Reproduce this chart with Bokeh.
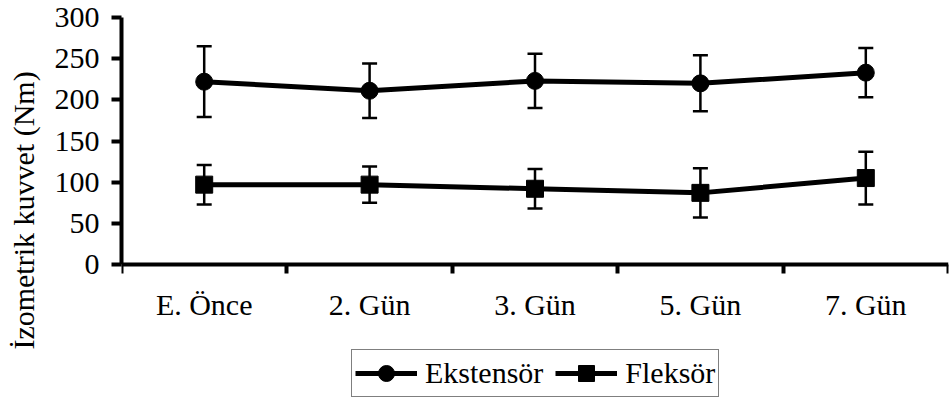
from bokeh.plotting import figure
from bokeh.models import (ColumnDataSource, Whisker, TeeHead, FixedTicker,
                          Legend, LegendItem, Range1d)
from bokeh.embed import file_html
from bokeh.resources import INLINE

categories = ["E. Önce", "2. Gün", "3. Gün", "5. Gün", "7. Gün"]
ekstensor = [222, 211, 223, 220, 233]
ekstensor_sd = [43, 33, 33, 34, 30]
fleksor = [97, 97, 92, 87, 105]
fleksor_sd = [24, 22, 24, 30, 32]
y_ticks = [0, 50, 100, 150, 200, 250, 300]
series_names = ["Ekstensör", "Fleksör"]

FONT = "Liberation Serif"
FS = "30px"

W, H = 949, 403
TOP, AXIS_Y = 17, 264          # pixel rows of y=300 and y=0
y_max = y_ticks[-1]
y_min = -y_max * (H - AXIS_Y) / (AXIS_Y - TOP)   # frame extends below the axis

xs = [i + 0.5 for i in range(len(categories))]

src_e = ColumnDataSource(dict(
    x=xs, y=ekstensor,
    upper=[v + s for v, s in zip(ekstensor, ekstensor_sd)],
    lower=[v - s for v, s in zip(ekstensor, ekstensor_sd)]))
src_f = ColumnDataSource(dict(
    x=xs, y=fleksor,
    upper=[v + s for v, s in zip(fleksor, fleksor_sd)],
    lower=[v - s for v, s in zip(fleksor, fleksor_sd)]))

p = figure(width=W, height=H, output_backend="svg", toolbar_location=None,
           x_range=Range1d(0, len(categories)), y_range=Range1d(y_min, y_max),
           min_border_left=121, min_border_right=1, min_border_top=TOP,
           min_border_bottom=0)
p.grid.visible = False
p.outline_line_color = None
p.background_fill_color = "white"
p.border_fill_color = "white"

# error bars
for src in (src_e, src_f):
    w = Whisker(source=src, base="x", upper="upper", lower="lower",
                dimension="height", line_color="black", line_width=2.5,
                upper_head=TeeHead(size=15, line_color="black", line_width=2.5),
                lower_head=TeeHead(size=15, line_color="black", line_width=2.5))
    p.add_layout(w)

l1 = p.line("x", "y", source=src_e, line_color="black", line_width=5)
s1 = p.scatter("x", "y", source=src_e, marker="circle", size=17,
               fill_color="black", line_color="black")
l2 = p.line("x", "y", source=src_f, line_color="black", line_width=5)
s2 = p.scatter("x", "y", source=src_f, marker="square", size=17,
               fill_color="black", line_color="black")

# x axis, pinned at y = 0 inside the frame
xa = p.xaxis[0]
xa.fixed_location = 0
xa.ticker = FixedTicker(ticks=xs, minor_ticks=list(range(len(categories) + 1)))
xa.major_label_overrides = {x: c for x, c in zip(xs, categories)}
xa.major_tick_out = 0
xa.major_tick_in = 0
xa.minor_tick_out = 9
xa.minor_tick_in = 0
xa.minor_tick_line_width = 4
xa.minor_tick_line_color = "black"
xa.axis_line_width = 4
xa.axis_line_color = "black"
xa.major_label_standoff = 14
xa.major_label_text_font = FONT
xa.major_label_text_font_size = FS
xa.major_label_text_color = "black"

# y axis
ya = p.yaxis[0]
ya.bounds = (0, y_max)
ya.ticker = FixedTicker(ticks=y_ticks)
ya.major_tick_out = 10
ya.major_tick_in = 0
ya.major_tick_line_width = 4
ya.major_tick_line_color = "black"
ya.minor_tick_line_color = None
ya.axis_line_width = 4
ya.axis_line_color = "black"
ya.major_label_standoff = 12
ya.major_label_text_font = FONT
ya.major_label_text_font_size = FS
ya.major_label_text_color = "black"
ya.axis_label = "İzometrik kuvvet (Nm)"
ya.axis_label_text_font = FONT
ya.axis_label_text_font_size = FS
ya.axis_label_text_font_style = "normal"
ya.axis_label_text_color = "black"
ya.axis_label_standoff = 12

legend = Legend(items=[LegendItem(label=series_names[0], renderers=[l1, s1]),
                       LegendItem(label=series_names[1], renderers=[l2, s2])],
                location=(230, 6), orientation="horizontal",
                label_text_font=FONT, label_text_font_size=FS,
                label_text_color="black",
                glyph_width=62, glyph_height=40, label_standoff=8,
                spacing=12, padding=3, margin=0,
                border_line_color="black", border_line_width=1,
                background_fill_color="white", background_fill_alpha=1)
p.add_layout(legend, "center")

open("out.html", "w").write(file_html(p, INLINE))
